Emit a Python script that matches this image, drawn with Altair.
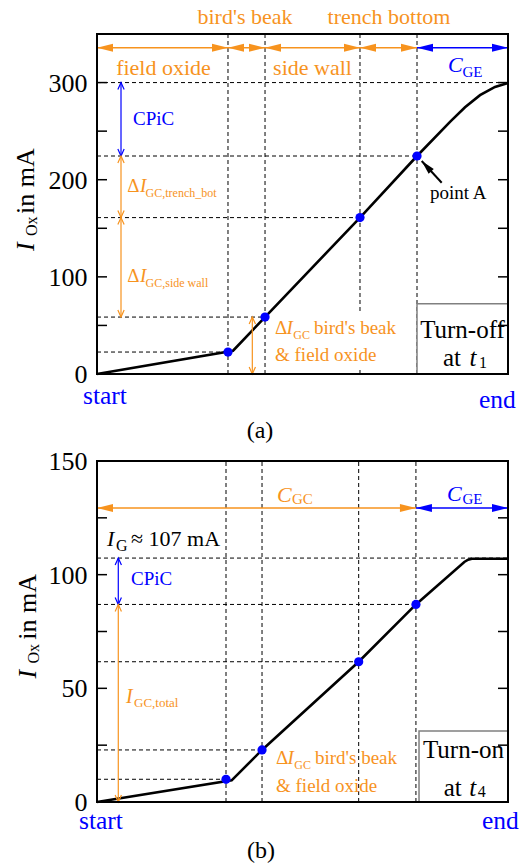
import altair as alt
import pandas as pd

FONT = "Liberation Serif"
ORANGE = "#F7931E"
BLUE = "#0000FF"
BLACK = "#000000"
GRAY = "#808080"

W = 411            # plot width in px (both panels)
TICK = 10 / W      # inward tick length in x-units

# ---------------- panel (a): Turn-off ----------------
a_domain = [0, 350]
a_ticks = [0, 100, 200, 300]
a_minor = [50, 100, 150, 200, 250, 300]
a_curve_x = [0.0, 0.331, 0.4088, 0.6399, 0.7786, 0.8589, 0.8954, 0.9319, 0.9684, 1.0]
a_curve_y = [0.0, 24.0, 58.6, 161.0, 224.4, 259.5, 274.5, 287.0, 295.5, 299.5]
a_pts_x = [0.3187, 0.4088, 0.6399, 0.7786]
a_pts_y = [22.6, 58.6, 161.0, 224.4]
a_level = 300.0
a_harrow_y = 335.9
a_hseg = [(0.0, 0.3187, ORANGE), (0.3187, 0.4088, ORANGE), (0.4088, 0.6399, ORANGE),
          (0.6399, 0.7786, ORANGE), (0.7786, 1.0, BLUE)]
a_vseg = [(0.0584, 300.0, 224.4, BLUE), (0.0584, 224.4, 161.0, ORANGE),
          (0.0584, 161.0, 58.6, ORANGE), (0.3779, 58.6, 0.0, ORANGE)]
a_pointer = (0.8387, 196.9, 0.790, 219.3)   # tail x, tail y, tip x, tip y
a_boxes = [(0.4209, 0.7324, 7.2, 62.8, "white", None),
           (0.7786, 1.0, 0.0, 72.4, "white", GRAY)]
a_text = [
    ("bird's beak", 0.3601, 360.3, ORANGE, 22, "normal", "center", 0),
    ("trench bottom", 0.7105, 360.3, ORANGE, 22, "normal", "center", 0),
    ("field oxide", 0.1618, 307.8, ORANGE, 22, "normal", "center", 0),
    ("side wall", 0.5243, 307.8, ORANGE, 22, "normal", "center", 0),
    ("C", 0.8540, 310.9, BLUE, 22, "italic", "left", 0),
    ("GE", 0.8893, 305.7, BLUE, 15, "normal", "left", 0),
    ("CPiC", 0.0876, 256.3, BLUE, 19, "normal", "left", 0),
    ("Δ", 0.0737, 187.7, ORANGE, 19, "normal", "left", 0),
    ("I", 0.1044, 187.7, ORANGE, 19, "italic", "left", 0),
    ("GC,trench_bot", 0.1182, 182.2, ORANGE, 12, "normal", "left", 0),
    ("Δ", 0.0737, 94.7, ORANGE, 19, "normal", "left", 0),
    ("I", 0.1044, 94.7, ORANGE, 19, "italic", "left", 0),
    ("GC,side wall", 0.1182, 89.6, ORANGE, 12, "normal", "left", 0),
    ("Δ", 0.4331, 40.9, ORANGE, 19, "normal", "left", 0),
    ("I", 0.4613, 40.9, ORANGE, 19, "italic", "left", 0),
    ("GC", 0.4776, 36.5, ORANGE, 12, "normal", "left", 0),
    ("bird's beak", 0.528, 40.9, ORANGE, 19, "normal", "left", 0),
    ("& field oxide", 0.4331, 13.4, ORANGE, 19, "normal", "left", 0),
    ("point A", 0.8102, 179.8, BLACK, 19, "normal", "left", 0),
    ("Turn-off", 0.8893, 37.4, BLACK, 25, "normal", "center", 0),
    ("at", 0.8418, 8.2, BLACK, 25, "normal", "left", 0),
    ("t", 0.9063, 8.2, BLACK, 25, "italic", "left", 0),
    ("1", 0.9294, 6.2, BLACK, 16, "normal", "left", 0),
    ("start", -0.0341, -31.2, BLUE, 25.5, "normal", "left", 0),
    ("end", 0.9294, -34.7, BLUE, 25.5, "normal", "left", 0),
    ("(a)", 0.3966, -65.9, BLACK, 24, "normal", "center", 0),
    ("I", -0.1521, 126.6, BLACK, 26, "italic", "left", 270),
    ("Ox", -0.1448, 142.1, BLACK, 16, "normal", "left", 270),
    ("in mA", -0.1521, 164.7, BLACK, 26, "normal", "left", 270),
]

# ---------------- panel (b): Turn-on ----------------
b_domain = [0, 150]
b_ticks = [0, 50, 100, 150]
b_minor = [25, 50, 75, 100, 125]
b_curve_x = [0.0, 0.3277, 0.4015, 0.6367, 0.776, 0.8937, 0.903, 0.912, 1.0]
b_curve_y = [0.0, 9.5, 22.9, 61.7, 86.9, 105.6, 106.6, 107.0, 107.0]
b_pts_x = [0.3139, 0.4015, 0.6367, 0.776]
b_pts_y = [10.0, 22.9, 61.7, 86.9]
b_level = 107.3
b_harrow_y = 129.3
b_hseg = [(0.0, 0.776, ORANGE), (0.776, 1.0, BLUE)]
b_vseg = [(0.0518, 107.3, 86.9, BLUE), (0.0518, 86.9, 0.0, ORANGE)]
b_pointer = None
b_boxes = [(0.7835, 1.0, 0.0, 31.2, "white", GRAY)]
b_text = [
    ("C", 0.438, 132.0, ORANGE, 22, "italic", "left", 0),
    ("GC", 0.4745, 131.1, ORANGE, 15, "normal", "left", 0),
    ("C", 0.8516, 132.4, BLUE, 22, "italic", "left", 0),
    ("GE", 0.8893, 131.1, BLUE, 15, "normal", "left", 0),
    ("I", 0.0243, 112.6, BLACK, 22, "italic", "left", 0),
    ("G", 0.0462, 110.4, BLACK, 16, "normal", "left", 0),
    ("≈ 107 mA", 0.0827, 112.6, BLACK, 22, "normal", "left", 0),
    ("CPiC", 0.0827, 95.5, BLUE, 19, "normal", "left", 0),
    ("I", 0.0706, 43.7, ORANGE, 20, "italic", "left", 0),
    ("GC,total", 0.09, 42.0, ORANGE, 13, "normal", "left", 0),
    ("Δ", 0.4355, 16.6, ORANGE, 19, "normal", "left", 0),
    ("I", 0.4637, 16.6, ORANGE, 19, "italic", "left", 0),
    ("GC", 0.48, 14.7, ORANGE, 12, "normal", "left", 0),
    ("bird's beak", 0.5304, 16.6, ORANGE, 19, "normal", "left", 0),
    ("& field oxide", 0.4355, 4.4, ORANGE, 19, "normal", "left", 0),
    ("Turn-on", 0.8917, 19.5, BLACK, 25, "normal", "center", 0),
    ("at", 0.8436, 2.6, BLACK, 25, "normal", "left", 0),
    ("t", 0.9058, 2.6, BLACK, 25, "italic", "left", 0),
    ("4", 0.9263, 2.2, BLACK, 16, "normal", "left", 0),
    ("start", -0.0438, -12.0, BLUE, 25.5, "normal", "left", 0),
    ("end", 0.9367, -12.0, BLUE, 25.5, "normal", "left", 0),
    ("(b)", 0.399, -24.6, BLACK, 24, "normal", "center", 0),
    ("I", -0.1496, 54.3, BLACK, 26, "italic", "left", 270),
    ("Ox", -0.1423, 60.9, BLACK, 16, "normal", "left", 270),
    ("in mA", -0.1496, 71.4, BLACK, 26, "normal", "left", 270),
]

FILLED_HEAD = "M0,0L-1,-0.25L-1,0.25Z"
OPEN_HEAD = "M-0.45,1L0,0L0.45,1"


def panel(H, domain, ticks, minor, cx, cy, ptx, pty, level, hy, hseg, vseg,
          pointer, boxes, texts, anchor=None):
    def X(f="x"):
        return alt.X(f"{f}:Q", scale=alt.Scale(domain=[0, 1]), axis=None)

    def Y(f="y"):
        return alt.Y(f"{f}:Q", scale=alt.Scale(domain=domain, nice=False, zero=False),
                     axis=alt.Axis(values=ticks, title=None, ticks=False, domain=False,
                                   grid=False, labelFont=FONT, labelFontSize=26,
                                   labelColor="black", labelPadding=10,
                                   labelBaseline="alphabetic", labelOffset=8.5))

    layers = []
    # dashed guide lines
    rows = []
    for x, y in zip(ptx, pty):
        rows.append(dict(x=x, x2=x, y=domain[0], y2=domain[1]))
        rows.append(dict(x=0, x2=x, y=y, y2=y))
    rows.append(dict(x=0, x2=1, y=level, y2=level))
    layers.append(alt.Chart(pd.DataFrame(rows)).mark_rule(
        color=BLACK, strokeWidth=1, strokeDash=[4, 3]).encode(
        x=X(), x2="x2", y=Y(), y2="y2"))
    # boxes
    for x0, x1, y0, y1, fill, stroke in boxes:
        kw = dict(fill=fill)
        if stroke:
            kw.update(stroke=stroke, strokeWidth=1.5)
        else:
            kw.update(strokeWidth=0)
        layers.append(alt.Chart(pd.DataFrame([dict(x=x0, x2=x1, y=y0, y2=y1)])).mark_rect(
            **kw).encode(x=X(), x2="x2", y=Y(), y2="y2"))
    # inward ticks
    trows = []
    for v in minor:
        trows.append(dict(x=0, x2=TICK, y=v))
        trows.append(dict(x=1 - TICK, x2=1, y=v))
    layers.append(alt.Chart(pd.DataFrame(trows)).mark_rule(
        color=BLACK, strokeWidth=1.5).encode(x=X(), x2="x2", y=Y()))
    # curve
    layers.append(alt.Chart(pd.DataFrame({"x": cx, "y": cy})).mark_line(
        color=BLACK, strokeWidth=2.6).encode(x=X(), y=Y()))
    # dots
    layers.append(alt.Chart(pd.DataFrame({"x": ptx, "y": pty})).mark_point(
        filled=True, color=BLUE, size=85, opacity=1, shape="circle").encode(x=X(), y=Y()))
    # arrows
    shafts, fheads, oheads = [], [], []
    for x0, x1, c in hseg:
        shafts.append(dict(x=x0, x2=x1, y=hy, y2=hy, c=c, w=1.5))
        fheads.append(dict(x=x0, y=hy, a=180, c=c, s=1024))
        fheads.append(dict(x=x1, y=hy, a=0, c=c, s=1024))
    for x, yt, yb, c in vseg:
        shafts.append(dict(x=x, x2=x, y=yt, y2=yb, c=c, w=1.2))
        oheads.append(dict(x=x, y=yt, a=0, c=c))
        oheads.append(dict(x=x, y=yb, a=180, c=c))
    if pointer:
        tx, ty, px, py = pointer
        shafts.append(dict(x=tx, x2=px, y=ty, y2=py, c=BLACK, w=2))
        fheads.append(dict(x=px, y=py, a=227.3, c=BLACK, s=784))
    layers.append(alt.Chart(pd.DataFrame(shafts)).mark_rule().encode(
        x=X(), x2="x2", y=Y(), y2="y2",
        color=alt.Color("c:N", scale=None),
        strokeWidth=alt.StrokeWidth("w:Q", scale=None)))
    layers.append(alt.Chart(pd.DataFrame(fheads)).mark_point(
        shape=FILLED_HEAD, filled=True, opacity=1, strokeWidth=0).encode(
        x=X(), y=Y(), color=alt.Color("c:N", scale=None),
        size=alt.Size("s:Q", scale=None), angle=alt.Angle("a:Q", scale=None)))
    layers.append(alt.Chart(pd.DataFrame(oheads)).mark_point(
        shape=OPEN_HEAD, filled=False, opacity=1, strokeWidth=1.2, size=196).encode(
        x=X(), y=Y(), color=alt.Color("c:N", scale=None),
        angle=alt.Angle("a:Q", scale=None)))
    # frame
    layers.append(alt.Chart(pd.DataFrame([dict(x=0, x2=1, y=domain[0], y2=domain[1])])).mark_rect(
        fillOpacity=0, stroke=BLACK, strokeWidth=2).encode(x=X(), x2="x2", y=Y(), y2="y2"))
    # texts
    tdf = pd.DataFrame(texts, columns=["t", "x", "y", "c", "s", "st", "al", "a"])
    for (st, al, ang), g in tdf.groupby(["st", "al", "a"]):
        layers.append(alt.Chart(g).mark_text(
            font=FONT, baseline="alphabetic", align=al, fontStyle=st, angle=int(ang)).encode(
            x=X(), y=Y(), text="t:N", color=alt.Color("c:N", scale=None),
            size=alt.Size("s:Q", scale=None)))
    if anchor:
        layers.append(alt.Chart(pd.DataFrame([dict(x=anchor[0], y=anchor[1])])).mark_rule(
            opacity=0, strokeWidth=0).encode(x=X(), x2="x", y=Y(), y2="y"))
    return alt.layer(*layers).properties(width=W, height=H)


top = panel(340, a_domain, a_ticks, a_minor, a_curve_x, a_curve_y, a_pts_x, a_pts_y,
            a_level, a_harrow_y, a_hseg, a_vseg, a_pointer, a_boxes, a_text,
            anchor=(-97 / W, 373 / (340 / 350)))
bottom = panel(341, b_domain, b_ticks, b_minor, b_curve_x, b_curve_y, b_pts_x, b_pts_y,
               b_level, b_harrow_y, b_hseg, b_vseg, b_pointer, b_boxes, b_text)

chart = alt.VConcatChart(vconcat=[top, bottom], spacing=87, bounds="flush").properties(
    padding=0, background="white").configure_view(stroke=None)

chart.save("out.html", embed_options={"renderer": "svg", "actions": False})
